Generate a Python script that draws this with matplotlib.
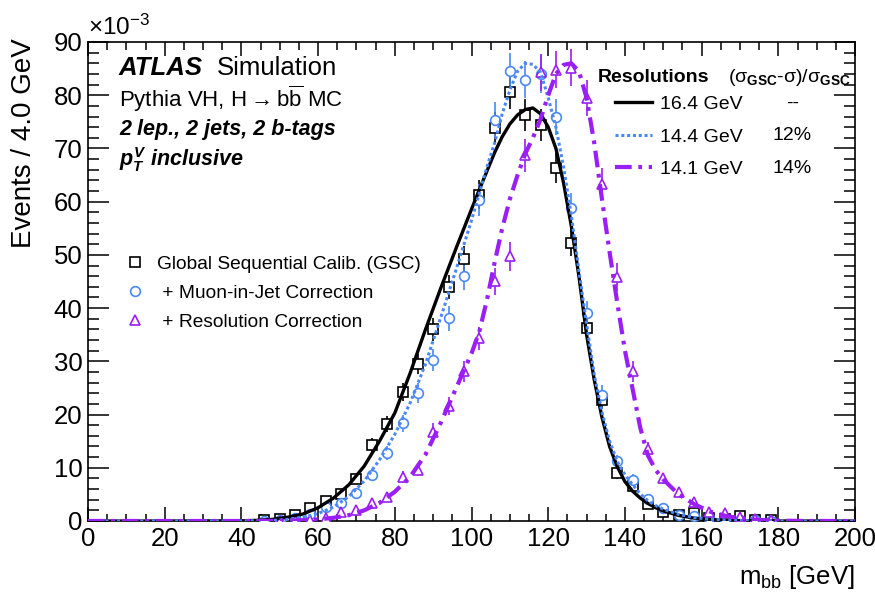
import matplotlib
matplotlib.use("Agg")
import matplotlib.pyplot as plt
import numpy as np

plt.rcParams['font.family'] = ['Liberation Sans', 'DejaVu Sans']
plt.rcParams['mathtext.fontset'] = 'custom'
plt.rcParams['mathtext.rm'] = 'Liberation Sans'
plt.rcParams['mathtext.it'] = 'Liberation Sans:italic:bold'
plt.rcParams['mathtext.bf'] = 'Liberation Sans:bold'

# histogram bin centres (4 GeV bins), events in units of 1e-3
bin_centres = [46, 50, 54, 58, 62, 66, 70, 74, 78, 82, 86, 90, 94, 98, 102, 106, 110,
               114, 118, 122, 126, 130, 134, 138, 142, 146, 150, 154, 158, 162, 166,
               170, 174, 178]
gsc_vals = [0.1, 0.4, 1.2, 2.5, 3.8, 5.0, 7.9, 14.3, 18.3, 24.2, 29.5, 36.0, 44.0, 49.2,
            61.3, 73.8, 80.6, 76.3, 74.4, 66.3, 52.3, 36.3, 22.7, 9.0, 6.6, 3.2, 1.75,
            1.1, 1.5, 0.5, 0.3, 1.0, 0.2, 0.1]
gsc_errs = [0.1, 0.2, 0.35, 0.5, 0.6, 0.75, 0.95, 1.3, 1.5, 1.7, 1.9, 2.1, 2.3, 2.5,
            2.7, 3.0, 3.1, 3.0, 3.0, 2.8, 2.5, 2.1, 1.65, 1.05, 0.9, 0.6, 0.45,
            0.35, 0.4, 0.25, 0.2, 0.35, 0.15, 0.1]
muon_vals = [0.05, 0.2, 0.6, 1.3, 2.6, 3.4, 5.2, 8.6, 12.8, 18.4, 24.0, 30.3, 38.1, 46.0,
             60.3, 75.4, 84.5, 82.9, 84.0, 75.9, 58.8, 39.0, 23.7, 11.2, 7.7, 4.1, 2.4,
             1.1, 0.9, 0.5, 0.3, 0.2, 0.1, 0.05]
muon_errs = [0.08, 0.17, 0.3, 0.43, 0.6, 0.7, 0.87, 1.1, 1.35, 1.6, 1.85, 2.1, 2.35, 2.6,
             2.95, 3.3, 3.5, 3.45, 3.5, 3.3, 2.9, 2.4, 1.85, 1.25, 1.05, 0.77, 0.6,
             0.4, 0.36, 0.27, 0.2, 0.17, 0.12, 0.08]
reso_vals = [0.0, 0.05, 0.1, 0.2, 0.5, 1.6, 2.1, 3.3, 4.6, 8.3, 9.6, 16.8, 21.6, 28.1,
             34.3, 45.0, 49.7, 68.7, 84.3, 84.8, 85.2, 79.5, 63.3, 45.8, 28.1, 13.5, 8.0,
             5.5, 3.6, 1.75, 1.5, 0.8, 0.4, 0.2]
reso_errs = [0.0, 0.08, 0.12, 0.17, 0.27, 0.48, 0.55, 0.7, 0.8, 1.1, 1.2, 1.55, 1.75, 2.0,
             2.2, 2.55, 2.7, 3.15, 3.5, 3.5, 3.5, 3.4, 3.0, 2.6, 2.0, 1.4, 1.07,
             0.9, 0.72, 0.5, 0.47, 0.34, 0.24, 0.17]

# fitted curves
curve_x = [0, 20, 40, 44, 48, 52, 56, 60, 64, 68, 72, 76, 80, 84, 88, 92, 96, 100, 102,
           104, 106, 108, 110, 112, 114, 116, 118, 120, 122, 124, 126, 128, 130, 132,
           134, 136, 138, 140, 142, 144, 146, 148, 150, 154, 158, 162, 166, 170, 174,
           178, 184, 190, 200]
gsc_fit = [0, 0, 0.04, 0.12, 0.3, 0.7, 1.3, 2.5, 4.3, 6.8, 10.3, 15.0, 20.3, 27.8, 36.0,
           43.8, 51.3, 58.6, 62.2, 65.7, 69.2, 72.2, 74.6, 76.3, 77.3, 77.6, 76.5, 74.0,
           70.0, 63.5, 55.5, 46.0, 35.0, 26.5, 19.5, 14.0, 10.2, 7.4, 5.6, 4.3, 3.3,
           2.5, 1.9, 1.05, 0.55, 0.3, 0.15, 0.08, 0.04, 0.02, 0, 0, 0]
muon_fit = [0, 0, 0.02, 0.05, 0.12, 0.3, 0.7, 1.4, 2.6, 4.6, 7.5, 11.5, 16.3, 22.2, 29.5,
            38.3, 47.3, 56.5, 61.5, 66.5, 71.0, 76.5, 81.0, 84.5, 86.0, 85.8, 84.3, 79.5,
            74.0, 66.5, 57.5, 47.0, 37.0, 27.5, 20.5, 15.0, 11.2, 8.7, 6.8, 5.1, 3.8,
            2.9, 2.2, 1.25, 0.65, 0.35, 0.18, 0.09, 0.04, 0.02, 0, 0, 0]
reso_fit = [0, 0, 0, 0.01, 0.03, 0.07, 0.15, 0.3, 0.6, 1.1, 2.0, 3.4, 5.5, 8.3, 12.5,
            18.5, 25.0, 31.5, 35.5, 41.5, 48.5, 55.0, 60.5, 65.0, 69.0, 72.0, 75.5, 80.0,
            84.0, 85.7, 86.0, 84.5, 79.5, 71.0, 60.5, 50.5, 41.0, 32.0, 24.8, 17.5, 12.3,
            9.6, 7.8, 5.0, 3.2, 1.8, 1.0, 0.5, 0.25, 0.1, 0.03, 0, 0]

labels_pts = ['Global Sequential Calib. (GSC)', ' + Muon-in-Jet Correction',
              ' + Resolution Correction']
labels_fit = ['16.4 GeV', '14.4 GeV', '14.1 GeV']
improvements = ['--', '12%', '14%']

black = 'black'
blue = '#4a88f5'
purple = '#9a1ef5'

fig = plt.figure(figsize=(8.75, 5.94), dpi=100)
ax = fig.add_axes([0.1006, 0.1229, 0.8766, 0.8064])

x = np.array(bin_centres, dtype=float)


def draw_points(vals, errs, color, marker, ms):
    vals = np.array(vals, dtype=float)
    errs = np.array(errs, dtype=float)
    keep = vals > 0
    ax.errorbar(x[keep], vals[keep], yerr=errs[keep], fmt='none', ecolor=color,
                elinewidth=1.2, zorder=2)
    pts, = ax.plot(x[keep], vals[keep], ls='none', marker=marker, ms=ms, mfc='white',
                   mec=color, mew=1.2, zorder=3)
    return pts


p1 = draw_points(gsc_vals, gsc_errs, black, 's', 7)
p2 = draw_points(muon_vals, muon_errs, blue, 'o', 7)
p3 = draw_points(reso_vals, reso_errs, purple, '^', 7.5)

l1, = ax.plot(curve_x, gsc_fit, color=black, lw=2.4, zorder=4)
l2, = ax.plot(curve_x, muon_fit, color=blue, lw=2.2, ls=(0, (1, 0.9)), zorder=4)
l3, = ax.plot(curve_x, reso_fit, color=purple, lw=3.0, ls=(0, (4, 1.6, 0.9, 1.6)), zorder=4)

ax.set_xlim(0, 200)
ax.set_ylim(0, 90)
ax.set_xticks(np.arange(0, 201, 20))
ax.set_xticks(np.arange(0, 201, 5), minor=True)
ax.set_yticks(np.arange(0, 91, 10))
ax.set_yticks(np.arange(0, 91, 2), minor=True)
ax.tick_params(axis='both', which='both', direction='in', top=True, right=True,
               labelsize=18.5, width=1.1, pad=4)
ax.tick_params(axis='x', which='major', length=10)
ax.tick_params(axis='x', which='minor', length=5.4)
ax.tick_params(axis='y', which='major', length=15)
ax.tick_params(axis='y', which='minor', length=8)
for s in ax.spines.values():
    s.set_linewidth(1.2)

ax.set_xlabel(r'm$_{\mathrm{bb}}$ [GeV]', fontsize=18.5, loc='right')
ax.xaxis.set_label_coords(1.0, -0.088)
ax.set_ylabel('Events / 4.0 GeV', fontsize=20, loc='top')
ax.yaxis.set_label_coords(-0.066, 1.008)

ax.text(0.0, 1.0146, r'×10$^{\mathrm{-3}}$', transform=ax.transAxes, fontsize=17.5,
        ha='left', va='baseline')

ax.text(0.0404, 0.931, 'ATLAS', transform=ax.transAxes, fontsize=18.5,
        fontweight='bold', style='italic', va='baseline')
ax.text(0.168, 0.931, 'Simulation', transform=ax.transAxes, fontsize=18.5, va='baseline')
ax.text(0.0404, 0.8643, r'Pythia VH, H$\rightarrow$b$\overline{\mathrm{b}}$ MC',
        transform=ax.transAxes, fontsize=16, va='baseline')
ax.text(0.0404, 0.806, '2 lep., 2 jets, 2 b-tags', transform=ax.transAxes,
        fontsize=15.5, fontweight='bold', style='italic', va='baseline')
ax.text(0.0404, 0.741, r'$p_{T}^{V}$ inclusive', transform=ax.transAxes,
        fontsize=15.5, fontweight='bold', style='italic', va='baseline')

leg1 = ax.legend([p1, p2, p3], labels_pts, loc='upper left',
                 bbox_to_anchor=(0.0487, 0.554), frameon=False, fontsize=13.8,
                 handlelength=1.0, handletextpad=0.65, labelspacing=0.6,
                 borderpad=0, borderaxespad=0)
ax.add_artist(leg1)

ax.legend([l1, l2, l3], labels_fit, loc='upper left', bbox_to_anchor=(0.687, 0.888),
          frameon=False, fontsize=14, handlelength=1.9, handletextpad=0.41,
          labelspacing=0.76, borderpad=0, borderaxespad=0)

ax.text(0.665, 0.9165, 'Resolutions', transform=ax.transAxes, fontsize=14,
        fontweight='bold', va='baseline')
ax.text(0.834, 0.9165,
        r'($\mathrm{\sigma}_{\mathbf{GSC}}$-$\mathrm{\sigma}$)/$\mathrm{\sigma}_{\mathbf{GSC}}$',
        transform=ax.transAxes, fontsize=14, va='baseline')
for yy, txt in zip([0.8727, 0.8038, 0.7349], improvements):
    ax.text(0.918, yy, txt, transform=ax.transAxes, fontsize=14, ha='center', va='center')

fig.savefig('out.png', dpi=100)
